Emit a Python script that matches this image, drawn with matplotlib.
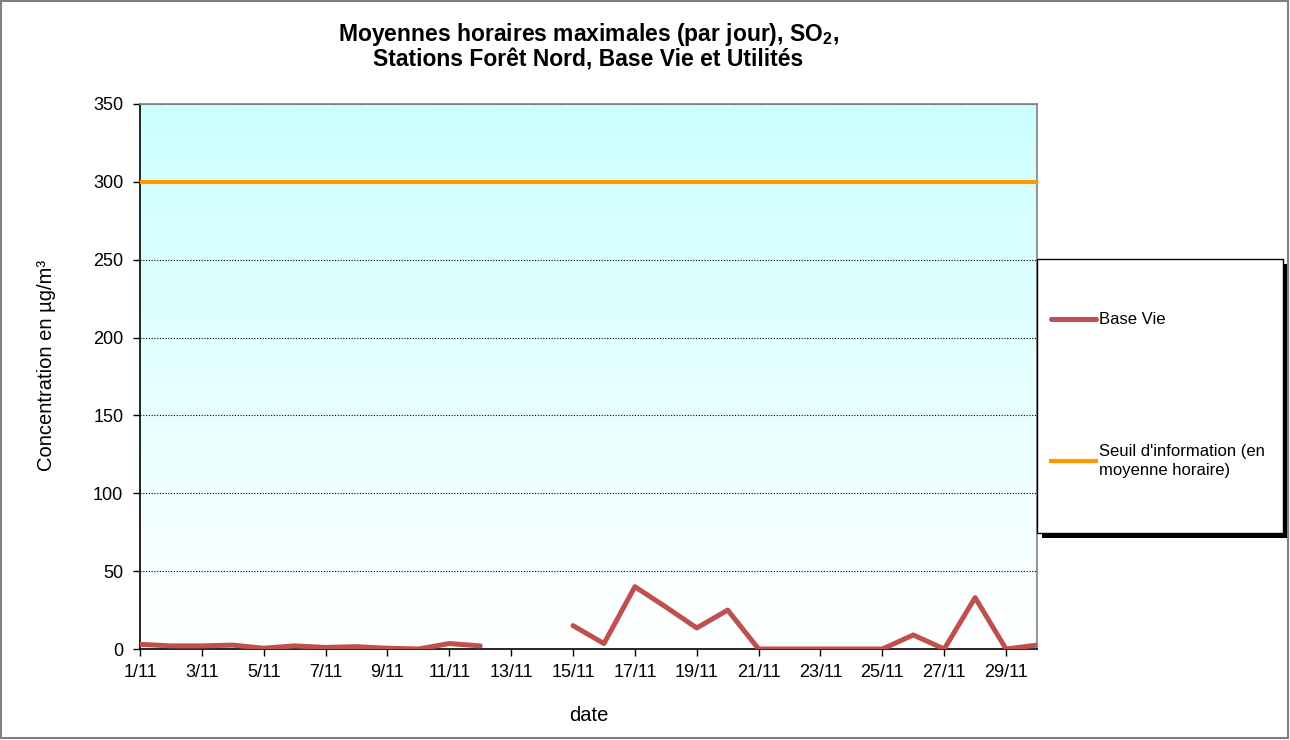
import matplotlib
matplotlib.use("Agg")
import matplotlib.pyplot as plt
import numpy as np
from matplotlib.colors import LinearSegmentedColormap
from matplotlib.patches import Rectangle

plt.rcParams['font.family'] = ['Liberation Sans', 'DejaVu Sans']
plt.rcParams['mathtext.fontset'] = 'custom'
plt.rcParams['mathtext.rm'] = 'Liberation Sans'
plt.rcParams['mathtext.bf'] = 'Liberation Sans:bold'

# daily max of hourly means, SO2, Base Vie (13/11 and 14/11 missing)
days = [f"{d}/11" for d in range(1, 31)]
base_vie = [3, 2, 2, 2.5, 0.5, 2, 1, 1.5, 0.5, 0, 3.5, 2, None, None,
            15, 3.5, 40, 27, 13.5, 25, 0, 0, 0, 0, 0, 9, 0, 33, 0, 2.5]
seuil = [300] * len(days)

W, H = 1290, 740
fig = plt.figure(figsize=(W / 100, H / 100), dpi=100)
ax = fig.add_axes([140 / W, 1 - 649 / H, (1037 - 140) / W, (649 - 104) / H])

x = np.arange(len(days))
y = np.array([np.nan if v is None else v for v in base_vie], dtype=float)

# gradient background (white at bottom to light cyan at top)
cmap = LinearSegmentedColormap.from_list('bg', ['#FFFFFF', '#CCFFFF'])
grad = np.linspace(0, 1, 256).reshape(-1, 1)
ax.imshow(grad, cmap=cmap, aspect='auto', origin='lower',
          extent=[0, len(days) - 1, 0, 350], zorder=0)

for v in range(50, 351, 50):
    ax.axhline(v, color='black', linewidth=0.8, linestyle=(0, (1, 1.5)), zorder=1)

ax.plot(x, y, color='#C0504D', linewidth=3.6, label='Base Vie', zorder=3,
        solid_capstyle='round', solid_joinstyle='round')
ax.plot(x, seuil, color='#FF9900', linewidth=3.0,
        label="Seuil d'information (en\nmoyenne horaire)", zorder=3)

ax.set_xlim(0, len(days) - 1)
ax.set_ylim(0, 350)
ax.set_xticks(x[::2])
ax.set_xticklabels(days[::2])
ax.set_yticks(range(0, 351, 50))
ax.tick_params(axis='both', labelsize=13, length=5, width=1, direction='out')
ax.tick_params(axis='x', pad=6)
ax.tick_params(axis='y', pad=7)

for s in ['left', 'bottom']:
    ax.spines[s].set_color('black')
    ax.spines[s].set_linewidth(1.2)
for s in ['top', 'right']:
    ax.spines[s].set_color('#808080')
    ax.spines[s].set_linewidth(1.2)

ax.set_xlabel('date', fontsize=14.5, labelpad=18)
ax.set_ylabel('Concentration en µg/m³', fontsize=14.5, labelpad=27)
ax.yaxis.label.set_y(0.52)
ax.set_title('Moyennes horaires maximales (par jour), SO$_\\mathbf{2}$,\n'
             'Stations Forêt Nord, Base Vie et Utilités',
             fontsize=16.5, fontweight='bold', pad=27, linespacing=1.02)

# legend box with black shadow
lx0, ly0, lx1, ly1 = 1037, 259, 1283, 533
fig.patches.append(Rectangle((lx0 / W + 5 / W, 1 - ly1 / H - 5 / H),
                             (lx1 - lx0) / W, (ly1 - ly0) / H,
                             transform=fig.transFigure, facecolor='black',
                             edgecolor='none', zorder=2))
fig.patches.append(Rectangle((lx0 / W, 1 - ly1 / H), (lx1 - lx0) / W, (ly1 - ly0) / H,
                             transform=fig.transFigure, facecolor='white',
                             edgecolor='black', linewidth=1, zorder=3))
leg = fig.legend(loc='upper left', bbox_to_anchor=(1051 / W, 1 - 312.5 / H),
                 frameon=False, fontsize=12, borderpad=0, borderaxespad=0,
                 handlelength=2.7, handletextpad=0.18, labelspacing=7.0)
for t in leg.get_texts():
    t.set_linespacing(1.3)
leg.set_zorder(4)

# outer chart border
fig.patches.append(Rectangle((1 / W, 2 / H), 1 - 3 / W, 1 - 3 / H,
                             transform=fig.transFigure, fill=False,
                             edgecolor='#808080', linewidth=1.5, zorder=5))

fig.savefig('out.png', dpi=100)
